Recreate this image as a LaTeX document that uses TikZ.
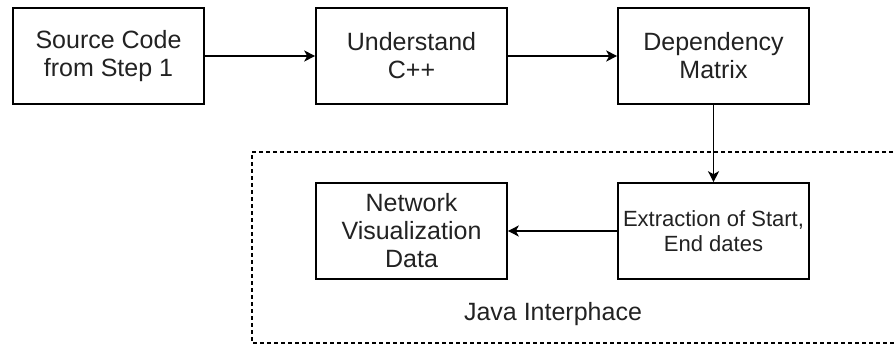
\documentclass[tikz,border=0pt]{standalone}
\usepackage{fontspec}
\setmainfont{Liberation Sans}
\usetikzlibrary{arrows.meta}
\definecolor{txt}{HTML}{222222}
\begin{document}
\begin{tikzpicture}[x=1pt,y=-1pt,
  box/.style={draw=black,line width=1.6pt,minimum width=191pt,minimum height=96pt,inner sep=0pt,
    align=center,text=txt,font=\fontsize{25}{28}\selectfont},
  smallbox/.style={box,font=\fontsize{22}{25}\selectfont},
  conn/.style={draw=black,line width=1.4pt,-{Stealth[length=11pt,width=11pt,inset=3pt]}},
  grp/.style={draw=black,line width=1.4pt,dash pattern=on 4pt off 3pt}]
\useasboundingbox (0,0) rectangle (894,345);
\fill[white] (0,0) rectangle (894,345);
\draw[grp] (900,152) -- (252,152) -- (252,343) -- (900,343);
\node[box] (src) at (108.5,56) {Source Code\\from Step 1};
\node[box] (und) at (411.5,56) {Understand\\C++};
\node[box] (dep) at (713.5,56) {Dependency\\Matrix};
\node[smallbox] (ext) at (713.5,231) {Extraction of Start,\\End dates};
\node[box] (net) at (411.5,231) {Network\\Visualization\\Data};
\node[text=txt,font=\fontsize{25}{28}\selectfont] (java) at (553,314) {Java Interphace};
\draw[conn] (src) -- (und);
\draw[conn] (und) -- (dep);
\draw[conn] (dep) -- (ext);
\draw[conn] (ext) -- (net);
\end{tikzpicture}
\end{document}
